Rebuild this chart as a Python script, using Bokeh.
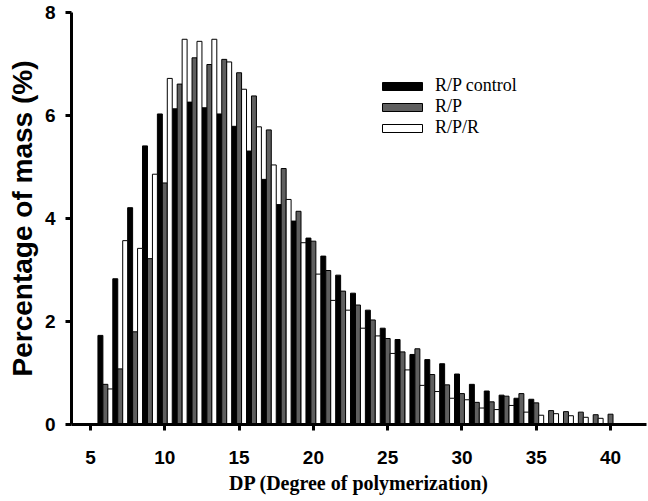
from bokeh.plotting import figure
from bokeh.models import ColumnDataSource, Legend, LegendItem, FixedTicker, Range1d
from bokeh.embed import file_html
from bokeh.resources import INLINE

dp = list(range(6, 41))
rp_control = [1.73, 2.83, 4.21, 5.41, 6.03, 6.13, 6.26, 6.15, 6.03, 5.79, 5.31, 4.76, 4.27, 3.95, 3.62,
              3.27, 2.90, 2.55, 2.22, 1.87, 1.65, 1.36, 1.26, 1.18, 0.98, 0.78, 0.65, 0.57, 0.51, 0.49,
              0.0, 0.0, 0.0, 0.0, 0.0]
rp = [0.78, 1.08, 1.80, 3.22, 4.69, 6.61, 7.12, 6.99, 7.09, 6.83, 6.38, 5.72, 4.97, 4.14, 3.56,
      2.99, 2.59, 2.32, 2.03, 1.67, 1.41, 1.47, 0.97, 0.77, 0.60, 0.43, 0.44, 0.55, 0.60, 0.42,
      0.27, 0.25, 0.24, 0.19, 0.20]
rpr = [0.69, 3.57, 3.42, 4.86, 6.72, 7.48, 7.44, 7.48, 7.04, 6.51, 5.78, 5.04, 4.37, 3.53, 2.92,
       2.41, 2.22, 1.87, 1.72, 1.38, 1.06, 0.76, 0.64, 0.51, 0.48, 0.32, 0.29, 0.37, 0.24, 0.18,
       0.21, 0.17, 0.14, 0.12, 0.0]
x_ticks = [5, 10, 15, 20, 25, 30, 35, 40]
y_ticks = [0, 2, 4, 6, 8]
series_names = ["R/P control", "R/P", "R/P/R"]

bw = 1 / 3
src = ColumnDataSource(dict(
    x_c=[d - bw for d in dp], x_p=dp, x_r=[d + bw for d in dp],
    c=rp_control, p=rp, r=rpr,
))

p = figure(width=648, height=501, output_backend="svg", toolbar_location=None,
           x_range=Range1d(3.72, 42.42), y_range=Range1d(0, 8),
           min_border_left=71, min_border_right=2, min_border_top=12, min_border_bottom=77)
p.outline_line_color = None
p.xgrid.visible = False
p.ygrid.visible = False
p.background_fill_color = "white"

r1 = p.vbar(x="x_c", top="c", width=bw, source=src, fill_color="black", line_color="black", line_width=1)
r2 = p.vbar(x="x_p", top="p", width=bw, source=src, fill_color="#5f5f5f", line_color="black", line_width=1)
r3 = p.vbar(x="x_r", top="r", width=bw, source=src, fill_color="white", line_color="black", line_width=1)

for ax in (p.xaxis[0], p.yaxis[0]):
    ax.axis_line_width = 3
    ax.major_tick_line_width = 3
    ax.major_tick_out = 6
    ax.major_tick_in = 0
    ax.minor_tick_line_color = None
    ax.major_label_text_font = "Liberation Sans"
    ax.major_label_text_font_style = "bold"
    ax.major_label_text_font_size = "19px"
    ax.major_label_text_color = "black"
    ax.axis_label_text_color = "black"

p.xaxis.ticker = FixedTicker(ticks=x_ticks)
p.yaxis.ticker = FixedTicker(ticks=y_ticks)
p.xaxis.major_label_standoff = 20
p.yaxis.major_label_standoff = 10

p.xaxis.axis_label = "DP (Degree of polymerization)"
p.xaxis.axis_label_text_font = "Liberation Serif"
p.xaxis.axis_label_text_font_style = "bold"
p.xaxis.axis_label_text_font_size = "20px"
p.xaxis.axis_label_standoff = 5

p.yaxis.axis_label = "Percentage of mass (%)"
p.yaxis.axis_label_text_font = "Liberation Sans"
p.yaxis.axis_label_text_font_style = "bold"
p.yaxis.axis_label_text_font_size = "28px"
p.yaxis.axis_label_standoff = 4

legend = Legend(items=[LegendItem(label=series_names[0], renderers=[r1]),
                       LegendItem(label=series_names[1], renderers=[r2]),
                       LegendItem(label=series_names[2], renderers=[r3])],
                location=(306, 286))
legend.glyph_width = 50
legend.glyph_height = 10
legend.label_height = 10
legend.spacing = -5
legend.padding = 0
legend.margin = 0
legend.label_standoff = 8
legend.border_line_color = None
legend.background_fill_alpha = 0
legend.label_text_font = "Liberation Serif"
legend.label_text_font_size = "18px"
legend.label_text_color = "black"
p.add_layout(legend, "center")

open("out.html", "w").write(file_html(p, INLINE))
